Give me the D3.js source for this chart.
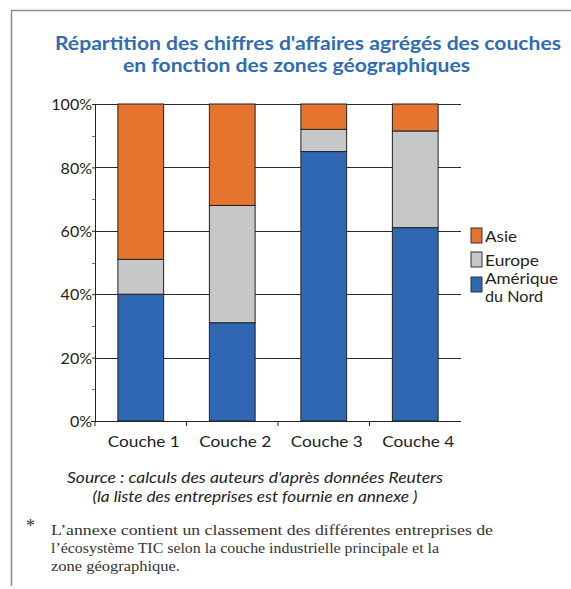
<!DOCTYPE html>
<html>
<head>
<meta charset="utf-8">
<script src="https://cdn.jsdelivr.net/npm/d3@7"></script>
<style>
  html, body { margin: 0; padding: 0; background: #fff; }
  svg { display: block; }
</style>
</head>
<body>
<svg id="chart" width="571" height="589"></svg>
<script>
const categories = ["Couche 1", "Couche 2", "Couche 3", "Couche 4"];
const ameriqueNord = [0.40, 0.31, 0.85, 0.61];
const europe = [0.11, 0.37, 0.07, 0.305];
const asie = [0.49, 0.32, 0.08, 0.085];
const yTicks = [0, 0.2, 0.4, 0.6, 0.8, 1.0];
const yMinorTicks = [0.1, 0.3, 0.5, 0.7, 0.9];
const seriesNames = ["Amérique du Nord", "Europe", "Asie"];
const titleLines = ["Répartition des chiffres d'affaires agrégés des couches", "en fonction des zones géographiques"];
const sourceLines = ["Source : calculs des auteurs d'après données Reuters", "(la liste des entreprises est fournie en annexe )"];
const noteLines = ["L’annexe contient un classement des différentes entreprises de", "l’écosystème TIC selon la couche industrielle principale et la", "zone géographique."];

const colors = { "Amérique du Nord": "#3067b3", "Europe": "#c6c7c9", "Asie": "#e5752e" };

const rows = categories.map((c, i) => ({
  cat: c, "Amérique du Nord": ameriqueNord[i], "Europe": europe[i], "Asie": asie[i]
}));

const svg = d3.select("#chart");

// frame
svg.append("path").attr("d", "M11.5,586 V10.5 H571").attr("fill", "none")
  .attr("stroke", "#8a8d93").attr("stroke-width", 1.5);

// title
const titleFont = "Lato, 'Open Sans', sans-serif";
svg.append("text").attr("x", 55).attr("y", 50)
  .attr("font-family", titleFont).attr("font-weight", "bold").attr("font-size", 18)
  .attr("fill", "#2f6cb3").text(titleLines[0])
  .attr("textLength", 506).attr("lengthAdjust", "spacingAndGlyphs");
svg.append("text").attr("x", 123).attr("y", 72)
  .attr("font-family", titleFont).attr("font-weight", "bold").attr("font-size", 18)
  .attr("fill", "#2f6cb3").text(titleLines[1])
  .attr("textLength", 347).attr("lengthAdjust", "spacingAndGlyphs");

const x = d3.scaleBand().domain(categories).range([95, 461]).paddingInner(0.5).paddingOuter(0.25);
const y = d3.scaleLinear().domain([0, 1]).range([421, 104]);

// gridlines
svg.append("g").selectAll("line").data(yTicks.filter(d => d > 0)).join("line")
  .attr("x1", 95).attr("x2", 461)
  .attr("y1", d => Math.round(y(d)) + 0.5).attr("y2", d => Math.round(y(d)) + 0.5)
  .attr("stroke", "#2a2a2a").attr("stroke-width", 1.2);

// bars
const stack = d3.stack().keys(seriesNames);
const stacked = stack(rows);
svg.append("g").selectAll("g").data(stacked).join("g")
  .attr("fill", d => colors[d.key])
  .selectAll("rect").data(d => d).join("rect")
  .attr("x", d => x(d.data.cat))
  .attr("width", x.bandwidth())
  .attr("y", d => y(d[1]))
  .attr("height", d => y(d[0]) - y(d[1]))
  .attr("stroke", "#222").attr("stroke-width", 1);

const labelFont = "Lato, 'Open Sans', sans-serif";

// y axis
const yAxis = svg.append("g").attr("transform", "translate(95,0)")
  .call(d3.axisLeft(y).tickValues(yTicks).tickSize(3).tickSizeOuter(0).tickFormat(d3.format(".0%")));
yAxis.select(".domain").attr("stroke", "#222");
yAxis.selectAll(".tick line").attr("stroke", "#222");
yAxis.selectAll("text").attr("font-family", labelFont).attr("font-size", 16).attr("fill", "#222").attr("x", -3).attr("dy", "0.35em");
svg.append("g").selectAll("line").data(yMinorTicks).join("line")
  .attr("x1", 92).attr("x2", 95)
  .attr("y1", d => Math.round(y(d)) + 0.5).attr("y2", d => Math.round(y(d)) + 0.5)
  .attr("stroke", "#777");

// x axis
const step = x.step();
const gap = (step - x.bandwidth()) / 2;
const bounds = categories.map(c => x(c) - gap);
svg.append("line").attr("x1", 91).attr("x2", 461).attr("y1", 421.5).attr("y2", 421.5).attr("stroke", "#222");
svg.append("g").selectAll("line").data(bounds).join("line")
  .attr("x1", d => d).attr("x2", d => d).attr("y1", 421).attr("y2", 426)
  .attr("stroke", "#222");
svg.append("g").selectAll("text").data(categories).join("text")
  .attr("x", d => x(d) + x.bandwidth() / 2 + 3).attr("y", 447)
  .attr("text-anchor", "middle").attr("font-family", labelFont).attr("font-size", 16)
  .attr("fill", "#222").text(d => d)
  .attr("textLength", 72).attr("lengthAdjust", "spacingAndGlyphs");

// legend
const legendItems = [
  { key: "Asie", y: 228, lines: ["Asie"], ty: [242], w: [32] },
  { key: "Europe", y: 252, lines: ["Europe"], ty: [266], w: [54] },
  { key: "Amérique du Nord", y: 277, lines: ["Amérique", "du Nord"], ty: [284, 302], w: [73, 58] }
];
const lg = svg.append("g");
legendItems.forEach(it => {
  lg.append("rect").attr("x", 471).attr("y", it.y).attr("width", 11).attr("height", 15)
    .attr("fill", colors[it.key]).attr("stroke", "#333").attr("stroke-width", 1);
  it.lines.forEach((t, i) => {
    lg.append("text").attr("x", 485).attr("y", it.ty[i]).attr("font-family", labelFont)
      .attr("font-size", 14.5).attr("fill", "#222").text(t)
      .attr("textLength", it.w[i]).attr("lengthAdjust", "spacingAndGlyphs");
  });
});

// source
const srcWidths = [376, 325];
sourceLines.forEach((t, i) => {
  svg.append("text").attr("x", 255).attr("y", 483 + i * 19).attr("text-anchor", "middle")
    .attr("font-family", labelFont).attr("font-style", "italic").attr("font-size", 16)
    .attr("fill", "#222").text(t)
    .attr("textLength", srcWidths[i]).attr("lengthAdjust", "spacingAndGlyphs");
});

// footnote
svg.append("text").attr("x", 26).attr("y", 532).attr("font-family", "'Liberation Serif', serif")
  .attr("font-size", 18).attr("fill", "#333").text("*");
const noteWidths = [442, 388, 129];
noteLines.forEach((t, i) => {
  svg.append("text").attr("x", 51).attr("y", 535 + i * 18)
    .attr("font-family", "'Liberation Serif', 'DejaVu Serif', serif").attr("font-size", 15.5)
    .attr("fill", "#333").text(t)
    .attr("textLength", noteWidths[i]).attr("lengthAdjust", "spacingAndGlyphs");
});
</script>
</body>
</html>
